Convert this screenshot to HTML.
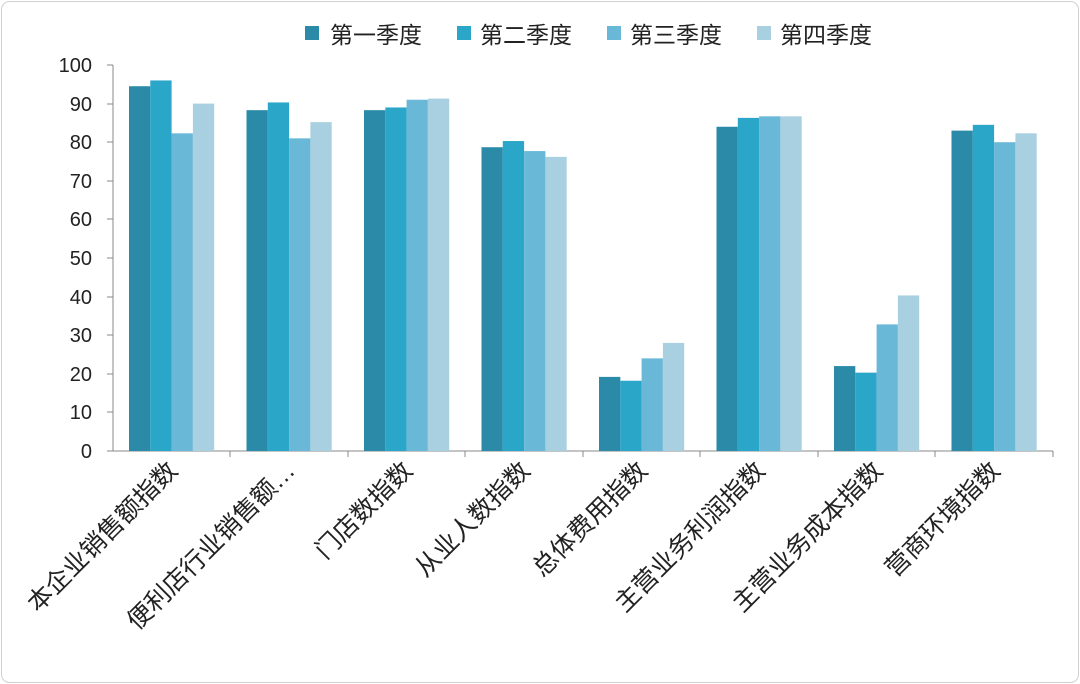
<!DOCTYPE html>
<html><head><meta charset="utf-8"><style>
html,body{margin:0;padding:0;background:#fff}
svg{display:block}
text{font-family:"Liberation Sans","Noto Sans CJK SC",sans-serif;fill:#222}
</style></head><body>
<svg width="1080" height="684" viewBox="0 0 1080 684">
<rect x="1.5" y="1.5" width="1077" height="681" rx="8" fill="#fff" stroke="#d0d0d0"/>
<g font-size="23">
<rect x="305" y="26" width="14" height="14" fill="#2a8aa8"/><text x="330" y="43">第一季度</text>
<rect x="457" y="26" width="14" height="14" fill="#2aa6c8"/><text x="480" y="43">第二季度</text>
<rect x="607" y="26" width="14" height="14" fill="#6ab8d8"/><text x="630" y="43">第三季度</text>
<rect x="757" y="26" width="14" height="14" fill="#a8d0e0"/><text x="780" y="43">第四季度</text>
</g>
<g font-size="20" text-anchor="end">
<text x="92" y="458">0</text><text x="92" y="419">10</text><text x="92" y="381">20</text><text x="92" y="342">30</text><text x="92" y="304">40</text><text x="92" y="265">50</text><text x="92" y="226">60</text><text x="92" y="188">70</text><text x="92" y="149">80</text><text x="92" y="111">90</text><text x="92" y="72">100</text>
</g>
<g stroke="#888" stroke-width="1">
<line x1="113" y1="65" x2="113" y2="451"/>
<line x1="113" y1="451" x2="1053" y2="451"/>
<line x1="107" y1="65" x2="113" y2="65"/><line x1="107" y1="104" x2="113" y2="104"/><line x1="107" y1="142" x2="113" y2="142"/><line x1="107" y1="181" x2="113" y2="181"/><line x1="107" y1="219" x2="113" y2="219"/><line x1="107" y1="258" x2="113" y2="258"/><line x1="107" y1="297" x2="113" y2="297"/><line x1="107" y1="335" x2="113" y2="335"/><line x1="107" y1="374" x2="113" y2="374"/><line x1="107" y1="412" x2="113" y2="412"/><line x1="107" y1="451" x2="113" y2="451"/>
<line x1="230" y1="451" x2="230" y2="457"/><line x1="348" y1="451" x2="348" y2="457"/><line x1="465" y1="451" x2="465" y2="457"/><line x1="583" y1="451" x2="583" y2="457"/><line x1="700" y1="451" x2="700" y2="457"/><line x1="818" y1="451" x2="818" y2="457"/><line x1="935" y1="451" x2="935" y2="457"/><line x1="1053" y1="451" x2="1053" y2="457"/>
</g>
<g id="bars"></g>
<g font-size="25" text-anchor="end" id="labels"></g>
<script>
var data=[[94.5,96,82.3,90],[88.3,90.3,81,85.2],[88.3,89,91,91.3],[78.7,80.3,77.7,76.2],[19.2,18.2,24,28],[84,86.3,86.7,86.7],[22,20.3,32.8,40.3],[83,84.5,80,82.3]];
var cols=["#2a8aa8","#2aa6c8","#6ab8d8","#a8d0e0"];
var names=["本企业销售额指数","便利店行业销售额…","门店数指数","从业人数指数","总体费用指数","主营业务利润指数","主营业务成本指数","营商环境指数"];
var g=document.getElementById("bars"),L=document.getElementById("labels"),ns="http://www.w3.org/2000/svg";
for(var i=0;i<8;i++){var x0=113+i*117.5+16;
for(var j=0;j<4;j++){var h=data[i][j]*3.86;var r=document.createElementNS(ns,"rect");
r.setAttribute("x",x0+j*21.3);r.setAttribute("y",451-h);r.setAttribute("width",21.3);r.setAttribute("height",h);r.setAttribute("fill",cols[j]);g.appendChild(r);}
var cx=113+i*117.5+66;var t=document.createElementNS(ns,"text");t.setAttribute("transform","translate("+cx+",472) rotate(-45)");t.textContent=names[i];L.appendChild(t);}
</script>
</svg>
</body></html>
